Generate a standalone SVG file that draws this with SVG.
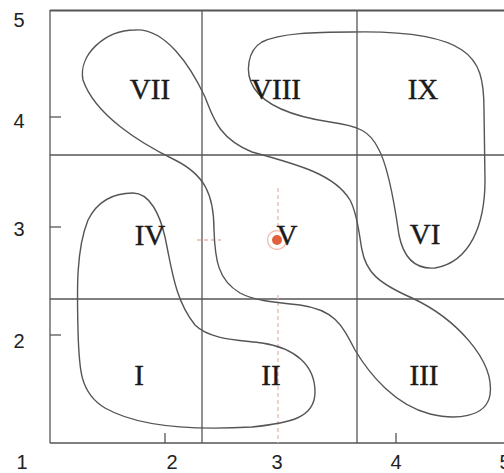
<svg xmlns="http://www.w3.org/2000/svg" width="504" height="473" viewBox="0 0 504 473">
<style>
.grid{stroke:#555;stroke-width:1.3;fill:none}
.frame{stroke:#555;stroke-width:2;fill:none}
.curve{stroke:#555;stroke-width:1.4;fill:none}
.lab{font-family:"Liberation Serif","Times New Roman",serif;font-size:29px;fill:#1a1a1a;stroke:#1a1a1a;stroke-width:0.4;text-anchor:middle}
.ax{font-family:"Liberation Sans",Arial,sans-serif;font-size:20px;fill:#222;text-anchor:middle}
.dash{stroke:#e8b8b0;stroke-width:1.3;stroke-dasharray:4 3;fill:none}
</style>
<rect width="504" height="473" fill="#fff"/>
<g id="axes">
<line class="frame" x1="50" y1="10.5" x2="504" y2="10.5"/>
<line class="grid" x1="50" y1="10" x2="50" y2="443"/>
<line class="grid" x1="50" y1="443" x2="504" y2="443"/>
<line class="grid" x1="202" y1="10" x2="202" y2="443"/>
<line class="grid" x1="357" y1="10" x2="357" y2="443"/>
<line class="grid" x1="50" y1="155" x2="504" y2="155"/>
<line class="grid" x1="50" y1="299" x2="504" y2="299"/>
<line class="grid" x1="50" y1="117" x2="61" y2="117"/>
<line class="grid" x1="50" y1="227" x2="61" y2="227"/>
<line class="grid" x1="50" y1="335" x2="61" y2="335"/>
<line class="grid" x1="165" y1="433" x2="165" y2="443"/>
<line class="grid" x1="396" y1="433" x2="396" y2="443"/>
<text class="ax" x="19" y="27">5</text>
<text class="ax" x="19" y="128">4</text>
<text class="ax" x="19" y="236">3</text>
<text class="ax" x="19" y="348">2</text>
<text class="ax" x="22" y="469">1</text>
<text class="ax" x="172" y="469">2</text>
<text class="ax" x="277" y="469">3</text>
<text class="ax" x="396" y="469">4</text>
<text class="ax" x="505" y="469">5</text>
</g>
<g id="connectors">
<line class="dash" x1="278" y1="188" x2="278" y2="226"/>
<line class="dash" x1="197" y1="240" x2="221" y2="240"/>
<line class="dash" x1="278" y1="295" x2="278" y2="443"/>
</g>
<g id="region-VII-V-III">
<path class="curve" d="M135,30 C165,28 190,65 205,97 C213,117 218,138 252,152 C300,165 335,175 350,200 C358,215 359,235 362,250 C366,272 378,283 412,298 C455,318 495,360 490,395 C486,418 455,420 430,414 C395,405 370,375 355,350 C342,325 335,310 300,305 C270,302 253,300 240,293 C218,280 215,260 214,230 C214,195 205,175 175,160 C140,143 95,115 83,80 C78,55 105,30 135,30 Z"/>
</g>
<g id="region-VIII-IX-VI">
<path class="curve" d="M352,32 C400,31 440,35 462,50 C480,62 484,80 484,110 L485,180 C485,225 470,262 435,268 C410,270 402,250 399,235 C394,200 388,165 378,148 C370,132 360,126 330,122 C290,116 265,105 254,88 C244,72 248,50 262,42 C280,33 315,32 352,32 Z"/>
</g>
<g id="region-IV-I-II">
<path class="curve" d="M133,193 C150,193 160,215 165,237 C172,270 175,300 195,325 C210,340 240,340 262,343 C295,348 315,365 315,392 C315,418 290,423 252,427 C200,430 140,428 105,408 C80,393 79,370 78,330 C77,290 76,250 88,220 C98,200 115,193 133,193 Z"/>
</g>
<g id="marker">
<circle cx="277" cy="240" r="9.5" fill="none" stroke="#f2bcb0" stroke-width="1.3"/>
<circle cx="277" cy="240" r="5" fill="#e2603e"/>
</g>
<g id="labels">
<text id="VII" class="lab" x="150" y="99">VII</text>
<text id="VIII" class="lab" x="276" y="99">VIII</text>
<text id="IX" class="lab" x="423" y="99">IX</text>
<text id="IV" class="lab" x="150" y="245">IV</text>
<text id="V" class="lab" x="287" y="245">V</text>
<text id="VI" class="lab" x="425" y="244">VI</text>
<text id="I" class="lab" x="139" y="385">I</text>
<text id="II" class="lab" x="271" y="385">II</text>
<text id="III" class="lab" x="424" y="385">III</text>
</g>
</svg>
